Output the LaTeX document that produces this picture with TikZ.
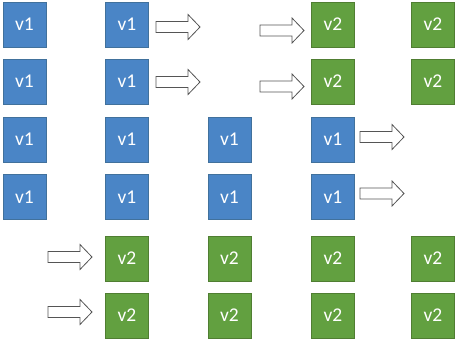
\documentclass[tikz,border=0pt]{standalone}
\usepackage{fontspec}
\setmainfont{Carlito}
\definecolor{vblue}{HTML}{4A85C6}
\definecolor{vblueb}{HTML}{41719C}
\definecolor{vgreen}{HTML}{62A040}
\definecolor{vgreenb}{HTML}{507E32}
\definecolor{arrline}{HTML}{555555}
\tikzset{
  vbox/.style={minimum width=43pt, minimum height=45pt, inner sep=0pt, line width=0.8pt, text=white, font=\fontsize{19.5}{19.5}\selectfont},
  vone/.style={vbox, fill=vblue, draw=vblueb},
  vtwo/.style={vbox, fill=vgreen, draw=vgreenb},
  blockarrow/.pic={
    \draw[line width=0.8pt, draw=arrline, fill=white, line join=miter]
      (0,-5.5) -- (32,-5.5) -- (32,-12.5) -- (44,0) -- (32,12.5) -- (32,5.5) -- (0,5.5) -- cycle;
  }
}
\begin{document}
\begin{tikzpicture}[x=1pt,y=-1pt]
\useasboundingbox (0,0) rectangle (456,340);
% row 1
\node[vone] (r1c1) at (24.5,24.5) {v1};
\node[vone] (r1c2) at (127,24.5) {v1};
\pic (r1a1) at (156,27) {blockarrow};
\pic (r1a2) at (260,30.5) {blockarrow};
\node[vtwo] (r1c4) at (333,24.5) {v2};
\node[vtwo] (r1c5) at (433,24.5) {v2};
% row 2
\node[vone] (r2c1) at (24.5,81.5) {v1};
\node[vone] (r2c2) at (127,81.5) {v1};
\pic (r2a1) at (156,82) {blockarrow};
\pic (r2a2) at (260,86.5) {blockarrow};
\node[vtwo] (r2c4) at (333,81.5) {v2};
\node[vtwo] (r2c5) at (433,81.5) {v2};
% row 3
\node[vone] (r3c1) at (24.5,139.5) {v1};
\node[vone] (r3c2) at (127,139.5) {v1};
\node[vone] (r3c3) at (229.5,139.5) {v1};
\node[vone] (r3c4) at (333,139.5) {v1};
\pic (r3a1) at (360,137) {blockarrow};
% row 4
\node[vone] (r4c1) at (24.5,197) {v1};
\node[vone] (r4c2) at (127,197) {v1};
\node[vone] (r4c3) at (229.5,197) {v1};
\node[vone] (r4c4) at (333,197) {v1};
\pic (r4a1) at (360,193.5) {blockarrow};
% row 5
\pic (r5a1) at (48,257) {blockarrow};
\node[vtwo] (r5c2) at (127,258.5) {v2};
\node[vtwo] (r5c3) at (229.5,258.5) {v2};
\node[vtwo] (r5c4) at (333,258.5) {v2};
\node[vtwo] (r5c5) at (433,258.5) {v2};
% row 6
\pic (r6a1) at (48,312) {blockarrow};
\node[vtwo] (r6c2) at (127,315.5) {v2};
\node[vtwo] (r6c3) at (229.5,315.5) {v2};
\node[vtwo] (r6c4) at (333,315.5) {v2};
\node[vtwo] (r6c5) at (433,315.5) {v2};
\end{tikzpicture}
\end{document}
